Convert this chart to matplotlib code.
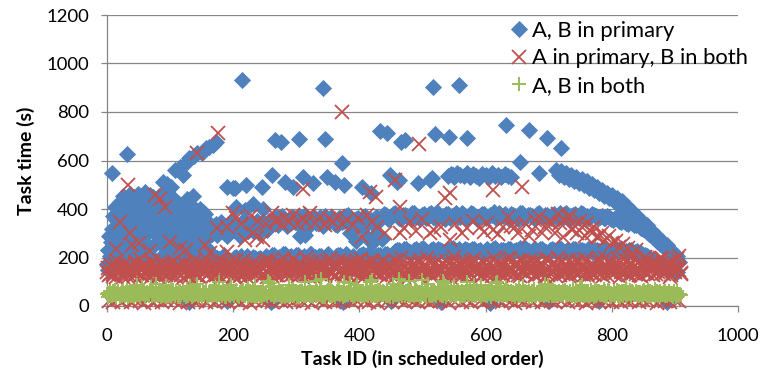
import numpy as np
import matplotlib.pyplot as plt

plt.rcParams['font.family'] = ['Lato', 'DejaVu Sans']

BLUE = '#4F81BD'
RED = '#C0504D'
GREEN = '#9BBB59'
GRID = '#868686'

labels = ['A, B in primary', 'A in primary, B in both', 'A, B in both']
x_ticks = [0, 200, 400, 600, 800, 1000]
y_ticks = [0, 200, 400, 600, 800, 1000, 1200]

# ---- "A, B in primary" -------------------------------------------------
# early tasks, one per id from 0
blue_cloud = [
    175, 232, 148, 290, 205, 168, 262, 196,
    318, 244, 372, 186, 410, 280, 223, 355, 160, 398, 305, 252,
    430, 338, 195, 402, 270, 455, 213, 365, 312, 180, 442, 288, 386, 238, 420, 165, 350, 460, 275, 325,
    395, 208, 448, 300, 360, 248, 425, 178, 335, 462, 282, 405, 225, 376, 452, 190, 318, 438, 262, 390,
    345, 470, 215, 410, 295, 440, 172, 368, 458, 240, 332, 415, 198, 448, 305, 378, 255, 432, 185, 358,
    420, 268, 455, 322, 200, 392, 442, 285, 350, 175, 428, 310, 465, 235, 382, 296, 445, 212, 362, 408,
    330, 180, 415, 270, 385, 225, 440, 305, 350, 195, 398, 262, 425, 318, 170, 372, 240, 405, 290, 342,
    215, 395, 278, 430, 188, 356, 320, 248, 410, 175, 368, 295, 380, 232, 338, 412, 205, 300, 362, 260,
    392, 185, 345, 282, 375, 218, 330, 400, 250, 310, 362, 198, 388, 270, 335, 225, 378, 295, 352, 240,
]
# middle group, every 6th id from 160 and from 163
blue_mid = [
    318, 296, 340, 305, 332, 288, 350, 312, 325, 298, 345, 330, 308, 352, 320, 338,
    352, 338, 366, 345, 358, 330, 362, 348, 370, 340, 355, 335, 368, 350, 342, 372,
    346, 360, 336, 364, 350, 375, 341, 358, 332, 367, 348, 356, 338, 362,
    368, 375, 362, 380, 370, 358, 377, 366, 382, 372, 360, 378, 368, 385, 364, 374,
    370, 380, 362, 376, 368, 383, 371, 365, 378, 360, 374, 380, 368, 376, 362, 384,
    370, 366, 378, 372, 360, 382, 369, 375, 364, 380, 371, 377, 362, 374, 368, 383,
    366, 375, 370, 378, 364, 381, 372, 368, 376, 363,
    370, 362, 366, 355, 360, 348, 352, 340, 344, 332, 326,
    318, 305, 292, 278, 262, 250, 236, 220, 205, 188,
]
blue_mid_b = [
    305, 330, 292, 348, 315, 300, 338, 322, 290, 355, 310, 342, 328, 300, 345, 315,
    345, 360, 332, 370, 350, 338, 366, 342, 358, 374, 335, 352, 344, 365, 330, 356,
    368, 340, 362, 348, 372, 338, 356, 364, 345, 370, 352, 340, 366, 355,
    378, 360, 372, 385, 364, 376, 370, 358, 383, 368, 374, 362, 380, 366, 386, 372,
    360, 378, 370, 382, 365, 375, 360, 384, 372, 368, 379, 362, 375, 386, 366, 372,
    380, 360, 374, 369, 383, 364, 377, 371, 360, 385, 368, 374, 362, 379, 372, 366,
    382, 360, 376, 368, 384, 370, 364, 378, 372, 366,
    364, 372, 358, 364, 350, 356, 344, 348, 336, 338, 322,
    312, 298, 285, 270, 256, 242, 228, 212, 196, 180,
]
# lower group, every 6th id from 150 and from 153
blue_low = [
    192, 180, 205, 188, 198, 176, 210, 190, 184, 202, 195, 178, 208, 186, 200, 193, 182,
    205, 196, 212, 200, 188, 215, 203, 194, 210, 198, 206, 190, 214, 201, 208, 195, 212,
    199, 192, 210, 204, 215, 197, 207, 193, 211, 202, 216, 198, 206, 209, 195, 213, 203,
    226, 232, 219, 234, 224, 229, 221, 236, 227, 218, 233, 225, 230, 222, 237, 228, 220,
    234, 226, 231, 223, 235, 228, 219, 232, 225, 236, 221, 230, 227, 234, 223, 229, 238,
    224, 231, 220, 233, 226, 235, 222, 229, 232, 225, 237, 221, 228, 234, 224, 230, 227,
    236, 222, 231, 225, 233, 220, 228, 235, 223, 230, 226, 232, 219, 225, 218, 210, 204,
    188, 180, 172, 165, 158, 150, 145,
]
blue_low_b = [
    186, 198, 178, 204, 192, 184, 200, 172, 196, 188, 206, 182, 194, 202, 178, 198, 190,
    198, 210, 192, 204, 214, 196, 206, 188, 212, 200, 194, 216, 203, 190, 208, 198, 214,
    192, 205, 210, 196, 212, 200, 188, 207, 215, 198, 204, 192, 210, 200, 213, 196, 206,
    232, 222, 236, 228, 220, 234, 226, 238, 224, 230, 219, 235, 227, 222, 232, 239, 225,
    220, 233, 228, 236, 223, 230, 218, 234, 226, 240, 224, 229, 221, 235, 227, 232, 220,
    238, 225, 230, 223, 236, 228, 219, 233, 226, 238, 222, 231, 227, 235, 220, 229, 224,
    237, 226, 232, 221, 234, 228, 223, 230, 236, 225, 219, 229, 222, 215, 212, 205, 198,
    184, 176, 168, 160, 154, 148, 140,
]
# upper group: every 5th id from 540, then every 4th id from 712
blue_top_a = [538, 545, 532, 548, 540, 535, 550, 530, 544, 538, 528,
              546, 541, 533, 549, 536, 542, 531, 545, 537, 530]
blue_top_b = [562, 540, 556, 532, 548, 524, 542, 515, 532, 506, 522, 498, 514,
              488, 502, 478, 492, 466, 480, 455, 468, 444, 458, 432, 446, 418,
              432, 402, 412, 385, 392, 368, 372, 350, 352, 330, 332, 312, 310,
              290, 290, 270, 270, 252, 250, 232, 228, 212, 205]
# single tasks
blue_pt_ids = [8, 31, 88, 95, 102, 108, 116, 121, 126, 130, 138, 142, 150, 157,
               161, 168, 173, 126, 136, 190, 200, 205, 218, 232, 247,
               203, 214, 221, 245, 261, 266, 276, 282, 295, 304, 311, 327, 342,
               346, 348, 361, 372, 375, 404, 419, 433, 443, 449, 459, 462, 466,
               473, 493, 512, 515, 516, 520, 542, 548, 558, 570, 632, 655, 668,
               685, 698, 720, 306, 314, 385, 395, 405, 412, 420, 428, 436,
               130, 190, 260, 374, 450, 530, 607, 700, 780, 887]
blue_pt_time = [548, 625, 512, 503, 490, 560, 575, 540, 595, 612, 618, 630, 632, 650,
                657, 665, 678, 440, 452, 492, 485, 410, 395, 420, 400,
                485, 930, 499, 492, 540, 685, 678, 513, 492, 690, 533, 506, 898,
                688, 533, 513, 589, 499, 492, 465, 722, 713, 540, 513, 520, 678,
                686, 506, 520, 526, 905, 710, 698, 540, 910, 694, 748, 594, 727,
                547, 692, 652, 288, 294, 300, 270, 320, 285, 260, 300, 275,
                18, 20, 15, 16, 22, 17, 14, 19, 21, 15]

# ---- "A in primary, B in both" ----------------------------------------
# every 3rd id from 0 and from 1
red_band = [
    142, 126, 165, 134, 172, 121, 153, 146, 130, 168, 139, 118, 160, 150, 125, 178,
    136, 158, 128, 170, 145, 122, 152, 182, 132, 141, 163, 119, 148, 169, 137, 127,
    155, 131, 176, 143, 124, 166, 138, 150, 117, 173, 147, 129, 159, 135, 185, 126,
    149, 120, 162, 139, 175, 128, 154, 144, 123, 167, 133, 157, 118, 151, 180, 137,
    130, 164, 146, 121, 188, 141, 156, 127, 171, 136, 120, 161, 149, 179, 132, 152,
    174, 143, 125, 158, 190, 138, 150, 122, 166, 146, 129, 183, 155, 134, 170, 126,
    147, 163, 131, 192, 152, 123, 173, 141, 158, 128, 186, 149, 137, 167, 119, 155,
    140, 181, 151, 127, 165, 145, 195, 133, 160, 122, 172, 148, 130, 187, 142, 157,
    125, 170, 153, 136, 184, 129, 163, 146, 120, 177, 150, 139, 191, 158, 132, 166,
    152, 134, 182, 144, 124, 169, 156, 138, 189, 128, 160, 147, 175, 121, 164, 141,
    185, 131, 158, 149, 126, 176, 143, 162, 135, 196, 154, 123, 168, 145, 180, 137,
    157, 174, 129, 165, 151, 120, 187, 141, 160, 133, 172, 148, 127, 178, 154, 139,
    131, 168, 192, 146, 136, 162, 124, 177, 151, 128, 183, 142, 164, 156, 121, 173,
    148, 127, 180, 159, 138, 197, 146, 130, 168, 154, 122, 188, 140, 161, 134, 176,
    166, 143, 125, 182, 153, 133, 172, 145, 194, 129, 158, 150, 178, 124, 164, 137,
    187, 152, 135, 161, 122, 175, 147, 167, 131, 190, 141, 156, 127, 181, 150, 145,
    133, 171, 158, 139, 198, 147, 125, 165, 152, 184, 136, 161, 130, 176, 148, 121,
    160, 142, 186, 128, 170, 150, 135, 199, 145, 126, 174, 156, 138, 189, 132, 167,
    153, 179, 134, 163, 147, 200, 130, 171, 143, 183, 127, 159, 139, 192, 150, 134,
]
red_band_b = [
    158, 133, 171, 124, 149, 186, 137, 162, 120, 176, 145, 131, 168, 154, 127, 181,
    140, 192, 129, 157, 174, 135, 148, 121, 183, 151, 166, 126, 139, 178, 160, 132,
    170, 143, 122, 187, 153, 136, 164, 128, 179, 146, 157, 119, 172, 141, 165, 134,
    125, 177, 150, 138, 194, 131, 159, 173, 143, 126, 168, 152, 185, 137, 147, 161,
    182, 139, 163, 127, 156, 171, 122, 148, 190, 135, 160, 144, 129, 175, 153, 138,
    146, 167, 133, 179, 120, 158, 185, 140, 152, 127, 172, 163, 136, 193, 149, 130,
    165, 128, 188, 150, 139, 176, 134, 162, 145, 198, 125, 157, 180, 142, 132, 170,
    133, 160, 146, 123, 184, 152, 138, 171, 129, 163, 189, 141, 155, 124, 177, 148,
    178, 144, 131, 166, 155, 122, 195, 137, 159, 147, 170, 126, 183, 151, 138, 164,
    129, 186, 157, 140, 173, 134, 161, 150, 124, 181, 143, 197, 132, 166, 154, 121,
    162, 137, 176, 130, 148, 191, 127, 169, 156, 139, 180, 145, 123, 172, 158, 143,
    141, 170, 125, 184, 150, 136, 163, 201, 133, 157, 128, 174, 147, 187, 126, 160,
    187, 148, 160, 132, 171, 143, 129, 179, 138, 166, 153, 122, 196, 140, 169, 135,
    124, 163, 139, 193, 146, 158, 131, 170, 182, 127, 160, 144, 175, 133, 152, 189,
    150, 181, 128, 157, 137, 176, 164, 123, 148, 191, 134, 169, 141, 160, 200, 129,
    136, 159, 172, 145, 188, 126, 154, 141, 180, 130, 167, 149, 193, 138, 125, 171,
    173, 130, 149, 185, 134, 162, 144, 196, 127, 157, 178, 140, 151, 166, 186, 142,
    145, 194, 137, 155, 128, 172, 159, 133, 181, 147, 124, 168, 203, 135, 158, 176,
    128, 164, 181, 140, 196, 135, 157, 148, 174, 121, 186, 143, 166, 152, 205, 138,
]
# short tasks, every 7th id from 3
red_short = [
    22, 15, 28, 18, 31, 16, 25, 20, 14, 29,
    17, 26, 15, 23, 30, 19, 14, 27, 16, 24,
    21, 32, 17, 25, 15, 28, 20, 16, 30, 23,
    18, 27, 14, 22, 31, 19, 25, 16, 29, 21,
    15, 26, 20, 33, 17, 24, 14, 28, 22, 18,
    30, 16, 25, 19, 27, 15, 23, 31, 20, 17,
    26, 14, 29, 21, 18, 32, 24, 16, 27, 20,
    15, 28, 22, 17, 30, 19, 25, 14, 23, 29,
    18, 26, 16, 31, 21, 15, 27, 20, 24, 17,
    29, 19, 14, 25, 22, 30, 16, 28, 18, 23,
    20, 15, 27, 31, 17, 24, 19, 26, 14, 22,
    28, 16, 21, 25, 18, 30, 15, 23, 20, 27,
    17, 24, 19, 29, 14, 26, 22, 16, 28, 21,
]
red_pt_ids = [21, 34, 37, 39, 76, 84, 92, 116, 142, 176, 200, 190, 174, 163, 190,
              15, 50, 68, 100, 125, 155,
              205, 212, 219, 228, 231, 237, 240, 248, 252, 261, 266, 271, 277, 282,
              288, 295, 302, 309, 315, 322, 330, 337, 345, 352, 358, 366, 372, 380,
              390, 398, 404, 412, 420, 311, 373,
              417, 427, 428, 440, 456, 464, 464, 470, 480, 490, 495, 500, 512, 518,
              530, 536, 544, 544, 552, 562, 570, 580, 591, 598, 602, 612, 612, 620,
              628, 636,
              641, 647, 652, 657, 663, 668, 673, 679, 684, 689, 694, 700, 705, 710,
              714, 718, 722, 726, 731, 734, 737, 741, 745, 749, 753, 757, 761, 766,
              769, 772, 776, 780, 785, 790, 795, 801, 806, 811, 818, 825, 832, 838]
red_pt_time = [348, 499, 300, 250, 458, 440, 410, 240, 630, 712, 383, 327, 320, 217, 224,
               235, 260, 225, 265, 230, 250,
               362, 340, 272, 372, 300, 286, 350, 272, 338, 383, 352, 355, 336, 368,
               345, 375, 340, 362, 348, 383, 342, 365, 336, 360, 348, 372, 340, 355,
               335, 362, 286, 375, 345, 482, 802,
               471, 451, 327, 300, 520, 410, 300, 320, 345, 310, 670, 360, 300, 313,
               327, 445, 465, 272, 340, 300, 320, 350, 327, 305, 341, 313, 478, 295,
               327, 368,
               330, 327, 300, 492, 341, 290, 313, 355, 368, 300, 327, 345, 341, 300,
               380, 341, 286, 355, 368, 372, 313, 330, 300, 350, 327, 290, 341, 313,
               300, 327, 285, 286, 300, 272, 290, 259, 270, 245, 255, 240, 203, 230]

# ---- "A, B in both" ----------------------------------------------------
# even ids
green_band = [
    48, 39, 57, 52, 43, 63, 50, 37, 55, 61, 45, 53, 40, 66, 49, 58, 44, 38, 60, 51,
    42, 62, 47, 56, 88, 45, 39, 59, 50, 64, 44, 55, 48, 41, 60, 80, 46, 52, 42, 61,
    50, 44, 58, 38, 63, 47, 54, 84, 43, 60, 51, 40, 65, 49, 44, 57, 46, 62, 39, 54,
    59, 45, 50, 70, 42, 56, 48, 37, 61, 52, 46, 92, 44, 58, 50, 40, 64, 47, 55, 43,
    38, 57, 49, 62, 45, 53, 76, 41, 60, 47, 55, 43, 66, 50, 37, 58, 51, 44, 86, 48,
    54, 42, 61, 47, 40, 58, 52, 45, 68, 41, 56, 49, 38, 63, 46, 59, 43, 82, 51, 40,
    45, 59, 52, 36, 64, 48, 57, 43, 55, 95, 46, 61, 39, 50, 58, 44, 67, 52, 41, 56,
    49, 38, 62, 54, 43, 58, 47, 72, 41, 53, 60, 45, 36, 63, 50, 55, 42, 98, 47, 57,
    44, 61, 51, 39, 58, 48, 104, 45, 55, 66, 43, 59, 50, 38, 62, 53, 46, 80, 41, 56,
    52, 42, 60, 48, 68, 44, 57, 39, 100, 50, 59, 45, 54, 64, 47, 37, 61, 51, 86, 44,
    47, 58, 40, 62, 53, 46, 72, 42, 56, 49, 108, 44, 60, 51, 39, 66, 48, 57, 45, 63,
    55, 43, 65, 49, 38, 59, 52, 92, 45, 61, 48, 41, 57, 84, 46, 54, 43, 63, 50, 102,
    42, 60, 48, 55, 76, 45, 62, 51, 39, 58, 106, 47, 56, 44, 67, 50, 41, 60, 53, 46,
    57, 40, 53, 70, 47, 61, 43, 94, 50, 38, 63, 54, 45, 59, 48, 82, 42, 62, 49, 55,
    44, 63, 52, 41, 59, 100, 46, 56, 68, 43, 58, 49, 40, 64, 53, 45, 88, 50, 60, 47,
    50, 42, 61, 55, 38, 72, 48, 58, 44, 97, 53, 46, 62, 40, 57, 49, 80, 43, 60, 51,
    54, 45, 58, 39, 65, 50, 43, 61, 53, 47, 84, 42, 57, 49, 63, 44, 55, 37, 70, 48,
    41, 59, 47, 56, 44, 62, 51, 90, 46, 57, 40, 53, 66, 48, 43, 60, 52, 45, 63, 49,
    58, 46, 53, 67, 40, 55, 48, 60, 44, 76, 50, 38, 62, 52, 45, 57, 86, 42, 56, 48,
    45, 61, 50, 43, 58, 52, 39, 70, 47, 55, 63, 44, 57, 49, 41, 60, 46, 68, 53, 38,
    51, 44, 57, 48, 64, 42, 55, 46, 60, 40, 53, 80, 45, 58, 49, 37, 62, 54, 45, 57,
    47, 59, 44, 53, 39, 61, 50, 56, 43, 66, 48, 41, 58, 51, 72, 45, 55, 40, 60, 46,
    52, 45, 62, 48, 40, 57, 46, 55, 43, 60, 49, 39, 56, 45, 51,
]
# odd ids
green_band_b = [
    53, 44, 61, 40, 56, 47, 65, 42, 58, 50, 38, 62, 46, 55, 41, 67, 49, 57, 43, 52,
    60, 39, 54, 46, 63, 51, 42, 78, 48, 57, 37, 59, 45, 53, 64, 40, 56, 47, 90, 44,
    41, 58, 50, 66, 43, 55, 39, 61, 52, 45, 70, 48, 57, 42, 60, 53, 38, 63, 46, 54,
    62, 47, 38, 56, 51, 84, 44, 59, 40, 65, 49, 54, 43, 61, 47, 39, 58, 52, 66, 45,
    48, 63, 55, 42, 60, 46, 53, 40, 97, 50, 57, 44, 62, 39, 55, 48, 64, 42, 51, 59,
    44, 52, 67, 49, 39, 57, 62, 46, 54, 41, 60, 75, 47, 56, 43, 65, 50, 38, 58, 53,
    57, 41, 50, 63, 46, 54, 40, 102, 52, 60, 45, 49, 66, 42, 57, 51, 44, 61, 39, 55,
    46, 60, 43, 52, 88, 48, 56, 41, 63, 50, 37, 58, 53, 45, 62, 47, 70, 40, 54, 49,
    63, 42, 57, 47, 54, 40, 61, 50, 45, 112, 52, 39, 59, 48, 56, 65, 43, 51, 60, 46,
    39, 55, 48, 62, 44, 58, 51, 66, 42, 53, 47, 60, 95, 45, 50, 41, 57, 63, 46, 54,
    56, 45, 60, 41, 51, 64, 47, 55, 99, 43, 58, 49, 40, 62, 54, 46, 68, 50, 44, 59,
    48, 61, 42, 55, 47, 59, 38, 52, 63, 45, 56, 110, 50, 41, 60, 53, 46, 57, 64, 43,
    60, 47, 54, 40, 66, 50, 45, 58, 43, 62, 49, 55, 39, 61, 92, 46, 52, 41, 57, 48,
    45, 53, 62, 48, 56, 42, 105, 51, 60, 44, 57, 40, 64, 47, 53, 59, 43, 50, 66, 39,
    55, 40, 58, 46, 63, 52, 44, 61, 48, 55, 86, 42, 59, 50, 45, 62, 38, 56, 47, 60,
    42, 59, 51, 64, 39, 57, 48, 54, 96, 45, 61, 47, 53, 40, 58, 66, 44, 52, 49, 57,
    61, 46, 55, 43, 60, 49, 78, 41, 57, 52, 45, 63, 48, 56, 39, 54, 60, 46, 51, 43,
    50, 57, 44, 62, 47, 53, 40, 59, 45, 88, 51, 56, 42, 64, 49, 43, 58, 52, 61, 46,
    44, 62, 53, 40, 58, 46, 60, 51, 43, 55, 48, 66, 41, 57, 80, 45, 53, 59, 42, 50,
    58, 43, 51, 65, 45, 56, 49, 41, 62, 53, 46, 59, 44, 72, 50, 38, 55, 61, 47, 52,
    47, 60, 42, 54, 50, 63, 38, 57, 46, 61, 52, 43, 59, 48, 64, 41, 56, 50, 45, 62,
    54, 41, 59, 49, 44, 66, 52, 47, 58, 40, 61, 53, 45, 55, 42, 60, 48, 57, 43, 51,
    46, 58, 42, 55, 49, 61, 44, 52, 39, 57, 48, 60, 43, 50, 45,
]


def ids(start, step, values):
    return start + step * np.arange(len(values))


blue_x = np.concatenate([ids(0, 1, blue_cloud), ids(160, 6, blue_mid), ids(163, 6, blue_mid_b),
                         ids(150, 6, blue_low), ids(153, 6, blue_low_b),
                         ids(540, 5, blue_top_a), ids(712, 4, blue_top_b), blue_pt_ids])
blue_y = np.concatenate([blue_cloud, blue_mid, blue_mid_b, blue_low, blue_low_b,
                         blue_top_a, blue_top_b, blue_pt_time])
red_x = np.concatenate([ids(0, 3, red_band), ids(1, 3, red_band_b), ids(3, 7, red_short), red_pt_ids])
red_y = np.concatenate([red_band, red_band_b, red_short, red_pt_time])
green_x = np.concatenate([ids(0, 2, green_band), ids(1, 2, green_band_b)])
green_y = np.concatenate([green_band, green_band_b])

fig = plt.figure(figsize=(7.65, 3.77), dpi=100)
ax = fig.add_axes([107 / 765, 71 / 377, 631 / 765, 291 / 377])

ax.plot(blue_x, blue_y, ls='none', marker='D', ms=7.8, mfc=BLUE, mec=BLUE, mew=0.6,
        label=labels[0], clip_on=False, zorder=3)
ax.plot(red_x, red_y, ls='none', marker='x', ms=10.5, mec=RED, mew=1.3,
        label=labels[1], clip_on=False, zorder=4)
ax.plot(green_x, green_y, ls='none', marker='+', ms=10, mec=GREEN, mew=1.4,
        label=labels[2], clip_on=False, zorder=5)

ax.set_xlim(0, 1000)
ax.set_ylim(0, 1200)
ax.set_xticks(x_ticks)
ax.set_yticks(y_ticks)
ax.grid(axis='y', color=GRID, lw=0.9)
ax.set_axisbelow(True)
for side in ['top', 'right']:
    ax.spines[side].set_visible(False)
for side in ['left', 'bottom']:
    ax.spines[side].set_color(GRID)
    ax.spines[side].set_linewidth(0.9)
ax.tick_params(direction='out', length=4, width=0.9, color=GRID, labelsize=13.3)
ax.tick_params(axis='y', pad=9)
ax.tick_params(axis='x', pad=12)

ax.set_xlabel('Task ID (in scheduled order)', fontsize=14, fontweight='bold', labelpad=4)
ax.set_ylabel('Task time (s)', fontsize=14, fontweight='bold', labelpad=8)

leg = ax.legend(loc='upper left', bbox_to_anchor=(512 / 765, 1 - 21 / 377),
                bbox_transform=fig.transFigure, frameon=False, numpoints=1,
                handlelength=0.6, handletextpad=0.3, labelspacing=0.34,
                borderpad=0, borderaxespad=0, fontsize=15.8)
leg.set_zorder(6)

fig.savefig('out.png', dpi=100)
